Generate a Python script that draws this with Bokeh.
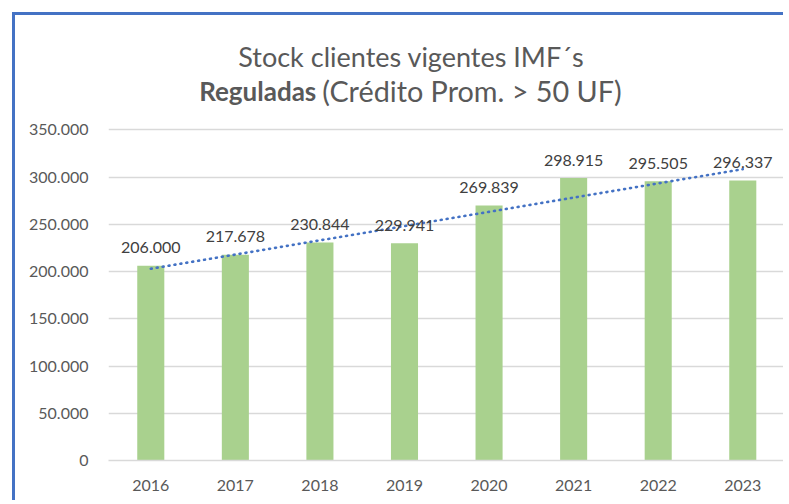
import numpy as np
from bokeh.plotting import figure
from bokeh.models import ColumnDataSource, FixedTicker, Range1d
from bokeh.core.properties import value
from bokeh.embed import file_html
from bokeh.resources import INLINE

years = ["2016", "2017", "2018", "2019", "2020", "2021", "2022", "2023"]
clientes = [206000, 217678, 230844, 229941, 269839, 298915, 295505, 296337]
y_ticks = [0, 50000, 100000, 150000, 200000, 250000, 300000, 350000]

title_line1 = "Stock clientes vigentes IMF´s"
title_bold = "Reguladas"
title_rest = "(Crédito Prom. > 50 UF)"

FONT = "Lato"
GRID = "#D9D9D9"
TXT = "#595959"

def fmt(v):
    return f"{v:,}".replace(",", ".")

xs = list(range(len(years)))

# geometry (page pixels) used to place the title texts
OFF = 15          # canvas origin on the page
FRAME_LEFT = 108.2
CAT_PX = 84.57
ZERO_Y = 460.0
PX_350K = 330.7

def px_to_x(px):
    return (px - FRAME_LEFT) / CAT_PX - 0.5

def px_to_y(py):
    return (ZERO_Y - py) / PX_350K * 350000

W, H = 771, 488
MB_L = round(FRAME_LEFT - OFF)
MB_B = round(OFF + H - ZERO_Y)
p = figure(width=W, height=H, output_backend="svg", toolbar_location=None,
           x_range=Range1d(-0.5, -0.5 + (W - MB_L) / CAT_PX),
           y_range=Range1d(0, (H - MB_B) / PX_350K * 350000),
           min_border_left=MB_L, min_border_right=0, min_border_top=0, min_border_bottom=MB_B)
p.styles = {"margin-left": "12px", "margin-top": "12px", "overflow": "hidden",
            "border-left": "3px solid #4472C4", "border-top": "3px solid #4472C4",
            "border-right": "none", "border-bottom": "none"}
p.outline_line_color = None
p.background_fill_color = "white"
p.border_fill_color = "white"

src = ColumnDataSource(dict(x=xs, y=clientes, lab=[fmt(v) for v in clientes]))
p.vbar(x="x", top="y", width=0.32, bottom=0, source=src, fill_color="#A9D18E", line_color=None)

# linear trend line
coef = np.polyfit(xs, clientes, 1)
trend = [coef[0] * x + coef[1] for x in xs]
p.line(xs, trend, line_color="#4472C4", line_width=2.6, line_dash="1 5", line_cap="round")

p.text(x="x", y="y", text="lab", source=src, text_font=value(FONT), text_font_size="16px",
       text_color="#404040", text_align="center", text_baseline="alphabetic", y_offset=-18)

# titles
p.text(x=[px_to_x(411)], y=[px_to_y(56)], text=[title_line1], text_font=value(FONT),
       text_font_size="27px", text_color=TXT, text_align="center", text_baseline="alphabetic")
p.text(x=[px_to_x(316)], y=[px_to_y(90)], text=[title_bold], text_font=value(FONT),
       text_font_size="26px", text_font_style="bold", text_color=TXT, text_align="right",
       text_baseline="alphabetic")
p.text(x=[px_to_x(322)], y=[px_to_y(90)], text=[title_rest], text_font=value(FONT),
       text_font_size="28.8px", text_color=TXT, text_align="left", text_baseline="alphabetic")

# axes
p.xaxis.ticker = FixedTicker(ticks=xs)
p.xaxis.major_label_overrides = {i: y for i, y in enumerate(years)}
p.xaxis.axis_line_color = GRID
p.xaxis.axis_line_width = 1.5
p.xaxis.major_tick_line_color = None
p.xaxis.minor_tick_line_color = None
p.xaxis.major_label_standoff = 13
p.xaxis.major_label_text_font = FONT
p.xaxis.major_label_text_font_size = "16px"
p.xaxis.major_label_text_color = TXT

p.yaxis.ticker = FixedTicker(ticks=y_ticks)
p.yaxis.major_label_overrides = {v: fmt(v) for v in y_ticks}
p.yaxis.axis_line_color = None
p.yaxis.major_tick_line_color = None
p.yaxis.minor_tick_line_color = None
p.yaxis.major_label_standoff = 14
p.yaxis.major_label_text_font = FONT
p.yaxis.major_label_text_font_size = "16px"
p.yaxis.major_label_text_color = TXT

p.xgrid.grid_line_color = None
p.ygrid.ticker = FixedTicker(ticks=y_ticks)
p.ygrid.grid_line_color = GRID
p.ygrid.grid_line_width = 1.5

open("out.html", "w").write(file_html(p, INLINE))
